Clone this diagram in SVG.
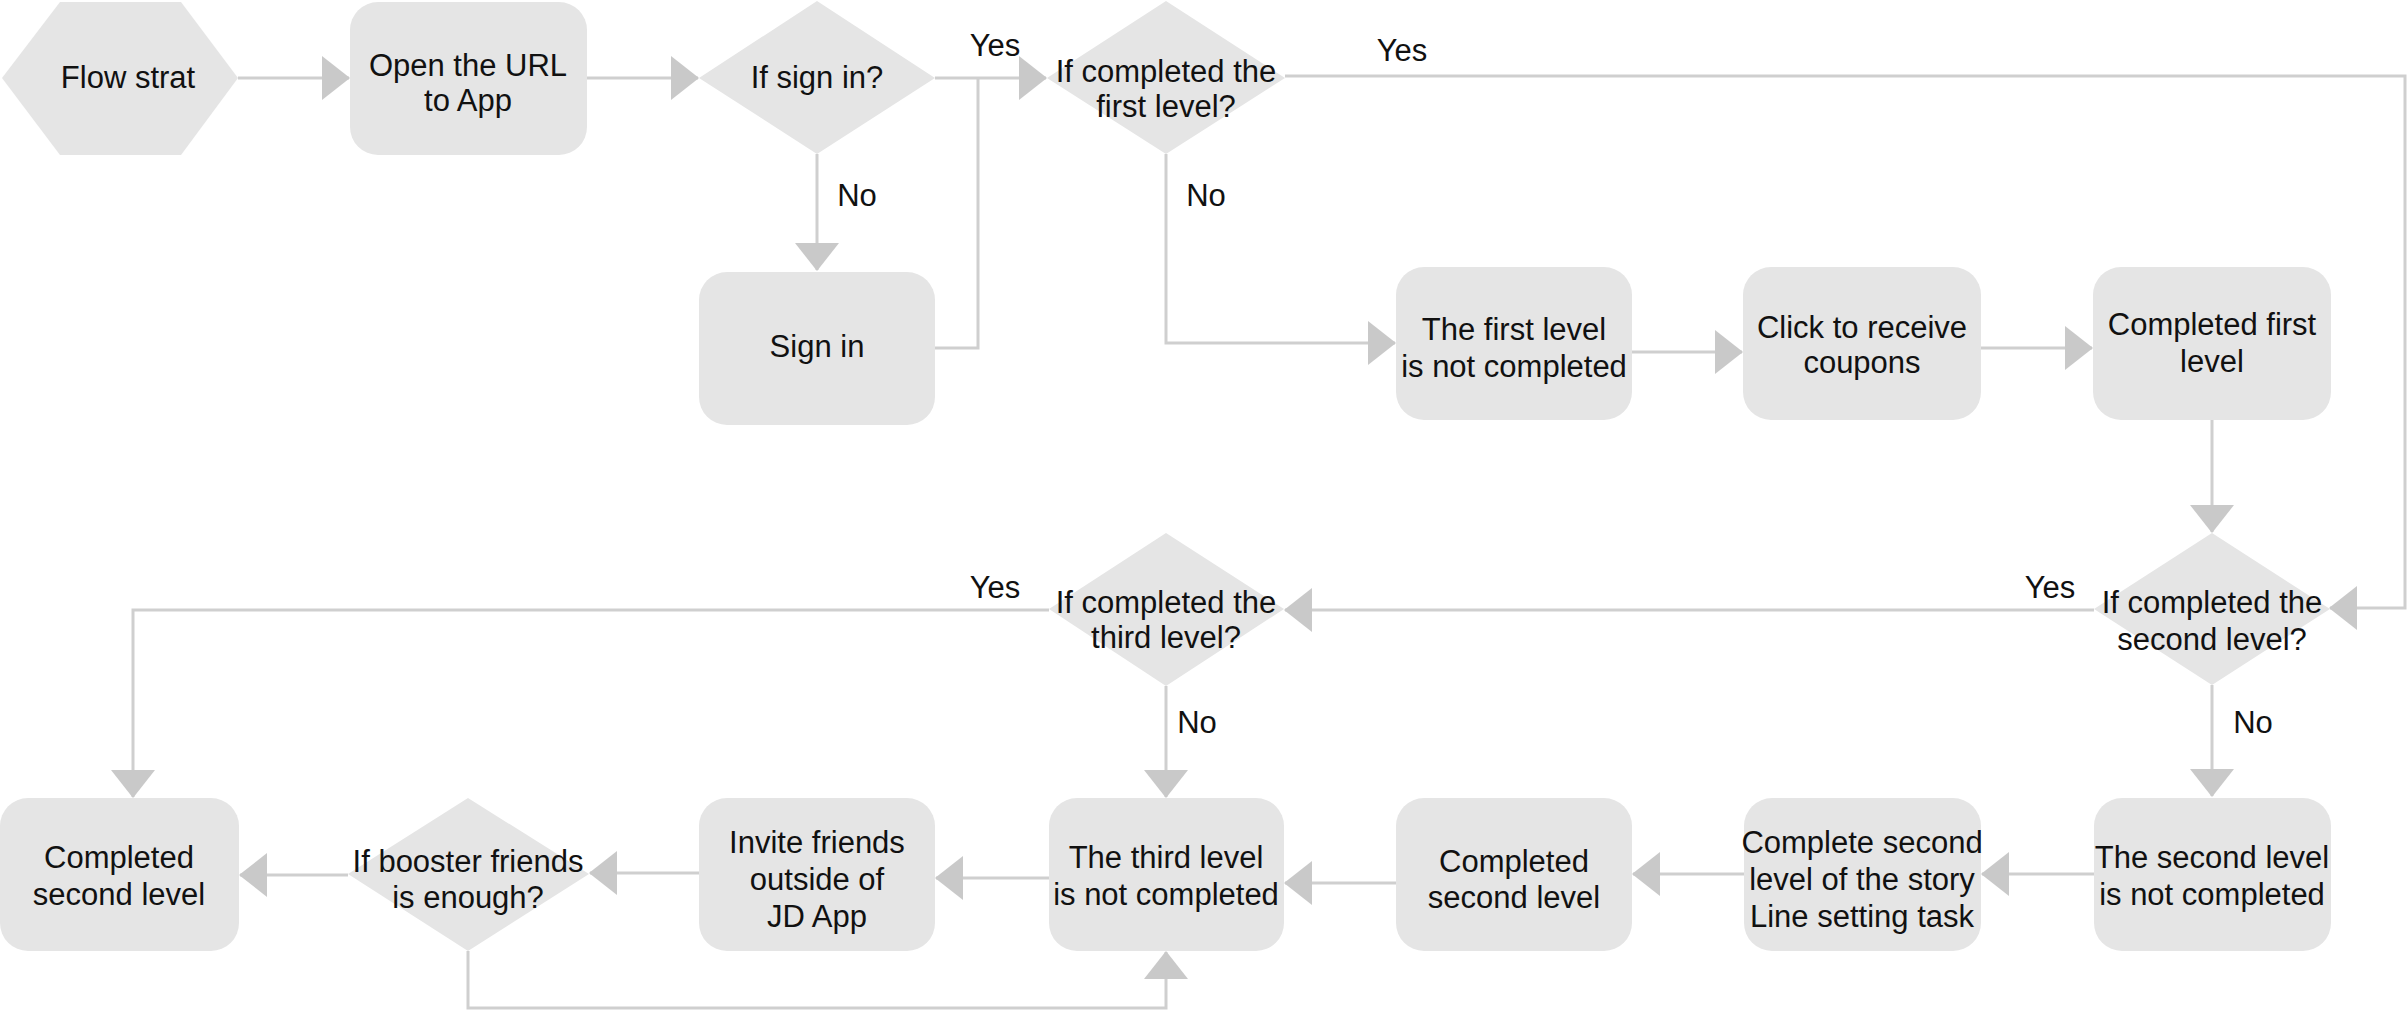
<svg xmlns="http://www.w3.org/2000/svg" width="2407" height="1011" viewBox="0 0 2407 1011">
<style>
.n{fill:#e5e5e5}
.t{font-family:"Liberation Sans",Arial,sans-serif;font-size:31px;fill:#111;text-anchor:middle}
.c{fill:none;stroke:#cfcfcf;stroke-width:3}
.a{marker-end:url(#ah)}
</style>
<defs>
<marker id="ah" markerUnits="userSpaceOnUse" viewBox="0 0 28 44" refX="27" refY="22" markerWidth="28" markerHeight="44" orient="auto">
<path d="M0,0 L28,22 L0,44 Z" fill="#c9c9c9"/>
</marker>
</defs>
<rect width="2407" height="1011" fill="#fff"/>
<g id="connectors">
<path class="c a" d="M238,78 H349"/>
<path class="c a" d="M587,78 H698"/>
<path class="c a" d="M935,78 H1046"/>
<path class="c a" d="M817,154 V270"/>
<path class="c" d="M935,348 H978 V78"/>
<path class="c a" d="M1166,154 V343 H1395"/>
<path class="c a" d="M1285,76 H2405 V608 H2330"/>
<path class="c a" d="M1632,352 H1742"/>
<path class="c a" d="M1981,348 H2092"/>
<path class="c a" d="M2212,420 V532"/>
<path class="c a" d="M2094,610 H1285"/>
<path class="c a" d="M2212,685 V796"/>
<path class="c a" d="M2094,874 H1982"/>
<path class="c a" d="M1744,874 H1633"/>
<path class="c a" d="M1396,883 H1285"/>
<path class="c a" d="M1049,610 H133 V797"/>
<path class="c a" d="M1166,686 V797"/>
<path class="c a" d="M1049,878 H936"/>
<path class="c a" d="M699,873 H590"/>
<path class="c a" d="M348,875 H240"/>
<path class="c a" d="M468,951 V1008 H1166 V952"/>
</g>
<g id="labels">
<text class="t" x="995" y="56">Yes</text>
<text class="t" x="857" y="206">No</text>
<text class="t" x="1402" y="61">Yes</text>
<text class="t" x="1206" y="206">No</text>
<text class="t" x="2050" y="598">Yes</text>
<text class="t" x="2253" y="733">No</text>
<text class="t" x="995" y="598">Yes</text>
<text class="t" x="1197" y="733">No</text>
</g>
<g id="start"><polygon class="n" points="2,78 60,2 181,2 238,78 181,155 60,155"/><text class="t" x="128" y="88">Flow strat</text></g>
<g id="open-url"><rect class="n" x="350" y="2" width="237" height="153" rx="28"/><text class="t" x="468" y="76">Open the URL</text><text class="t" x="468" y="111">to App</text></g>
<g id="if-sign-in"><polygon class="n" points="817,1 935,78 817,154 699,78"/><text class="t" x="817" y="88">If sign in?</text></g>
<g id="sign-in"><rect class="n" x="699" y="272" width="236" height="153" rx="28"/><text class="t" x="817" y="357">Sign in</text></g>
<g id="if-first"><polygon class="n" points="1166,1 1285,78 1166,154 1047,78"/><text class="t" x="1166" y="82">If completed the</text><text class="t" x="1166" y="117">first level?</text></g>
<g id="first-not"><rect class="n" x="1396" y="267" width="236" height="153" rx="28"/><text class="t" x="1514" y="340">The first level</text><text class="t" x="1514" y="377">is not completed</text></g>
<g id="coupons"><rect class="n" x="1743" y="267" width="238" height="153" rx="28"/><text class="t" x="1862" y="338">Click to receive</text><text class="t" x="1862" y="373">coupons</text></g>
<g id="completed-first"><rect class="n" x="2093" y="267" width="238" height="153" rx="28"/><text class="t" x="2212" y="335">Completed first</text><text class="t" x="2212" y="372">level</text></g>
<g id="if-second"><polygon class="n" points="2212,533 2330,609 2212,685 2094,609"/><text class="t" x="2212" y="613">If completed the</text><text class="t" x="2212" y="650">second level?</text></g>
<g id="second-not"><rect class="n" x="2094" y="798" width="237" height="153" rx="28"/><text class="t" x="2212" y="868">The second level</text><text class="t" x="2212" y="905">is not completed</text></g>
<g id="story-task"><rect class="n" x="1744" y="798" width="237" height="153" rx="28"/><text class="t" x="1862" y="853">Complete second</text><text class="t" x="1862" y="890">level of the story</text><text class="t" x="1862" y="927">Line setting task</text></g>
<g id="completed-second-mid"><rect class="n" x="1396" y="798" width="236" height="153" rx="28"/><text class="t" x="1514" y="872">Completed</text><text class="t" x="1514" y="908">second level</text></g>
<g id="if-third"><polygon class="n" points="1166,533 1284,609 1166,686 1049,609"/><text class="t" x="1166" y="613">If completed the</text><text class="t" x="1166" y="648">third level?</text></g>
<g id="third-not"><rect class="n" x="1049" y="798" width="235" height="153" rx="28"/><text class="t" x="1166" y="868">The third level</text><text class="t" x="1166" y="905">is not completed</text></g>
<g id="invite"><rect class="n" x="699" y="798" width="236" height="153" rx="28"/><text class="t" x="817" y="853">Invite friends</text><text class="t" x="817" y="890">outside of</text><text class="t" x="817" y="927">JD App</text></g>
<g id="if-booster"><polygon class="n" points="468,798 589,874 468,951 348,874"/><text class="t" x="468" y="872">If booster friends</text><text class="t" x="468" y="908">is enough?</text></g>
<g id="completed-second-left"><rect class="n" x="0" y="798" width="239" height="153" rx="28"/><text class="t" x="119" y="868">Completed</text><text class="t" x="119" y="905">second level</text></g>
</svg>
